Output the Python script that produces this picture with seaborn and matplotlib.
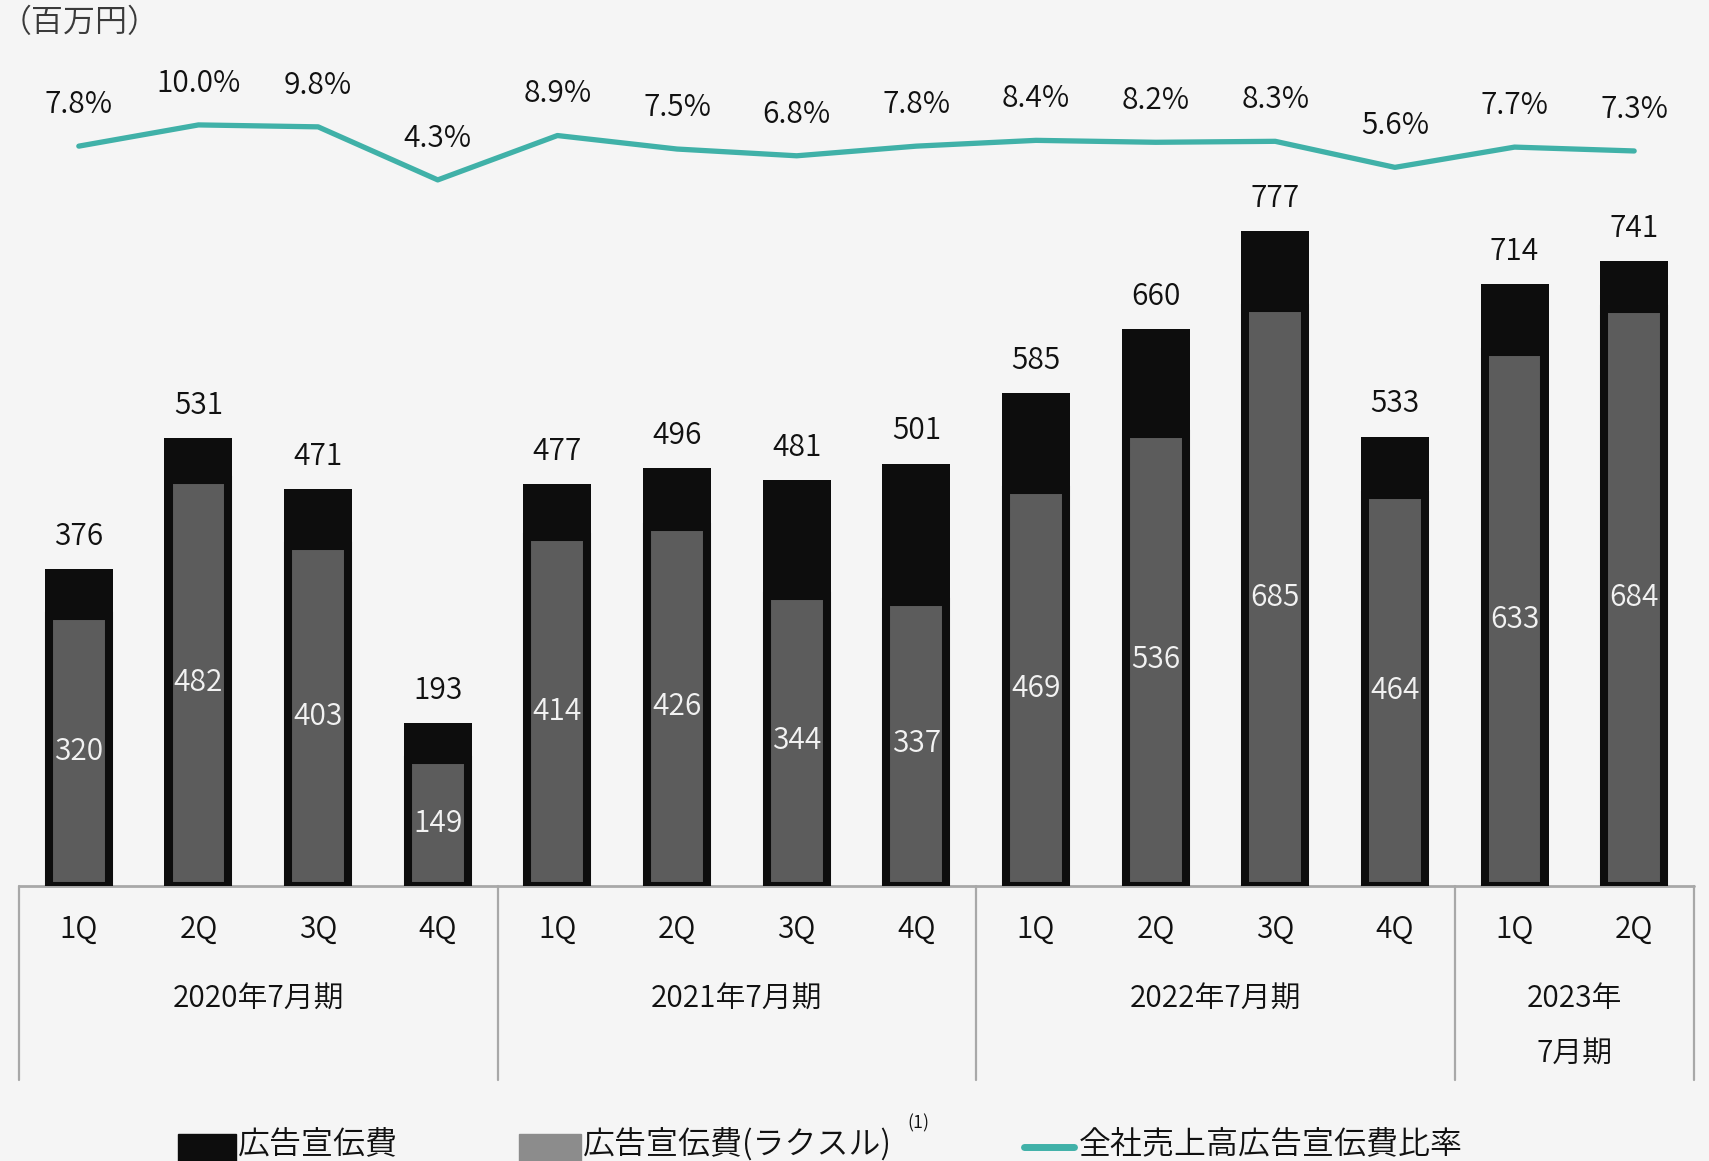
import numpy as np
import pandas as pd
import matplotlib
matplotlib.use("Agg")
import matplotlib.pyplot as plt
import matplotlib.transforms as mtransforms
from matplotlib.patches import Rectangle
from matplotlib.lines import Line2D
import seaborn as sns

# ---- data -------------------------------------------------------------
fiscal_years = ["2020年7月期", "2021年7月期", "2022年7月期", "2023年\n7月期"]
quarters_per_year = [4, 4, 4, 2]
quarter_labels = ["1Q", "2Q", "3Q", "4Q",
                  "1Q", "2Q", "3Q", "4Q",
                  "1Q", "2Q", "3Q", "4Q",
                  "1Q", "2Q"]
ad_total = [376, 531, 471, 193, 477, 496, 481, 501, 585, 660, 777, 533, 714, 741]
ad_raksul = [320, 482, 403, 149, 414, 426, 344, 337, 469, 536, 685, 464, 633, 684]
ad_ratio = [7.8, 10.0, 9.8, 4.3, 8.9, 7.5, 6.8, 7.8, 8.4, 8.2, 8.3, 5.6, 7.7, 7.3]

legend_labels = ["広告宣伝費", "広告宣伝費(ラクスル)", "全社売上高広告宣伝費比率"]
unit_label = "（百万円）"

# ---- style ------------------------------------------------------------
BG = "#f5f5f5"
BLACK = "#0d0d0d"
GRAY = "#5c5c5c"
LEGEND_GRAY = "#8c8c8c"
TEAL = "#40b1a8"
RULE = "#a8a8a8"
FS = 21.5
WEIGHT = 350

sns.set_theme(style="white")
plt.rcParams["font.family"] = ["Noto Sans CJK JP", "DejaVu Sans"]
plt.rcParams["font.weight"] = WEIGHT

W, H = 1709, 1161
fig = plt.figure(figsize=(W / 100, H / 100), dpi=100, facecolor=BG)


def px_rect(left, top, right, bottom):
    return [left / W, 1 - bottom / H, (right - left) / W, (bottom - top) / H]


rect = px_rect(19, 41, 1694, 886)
ax = fig.add_axes(rect)
ax.set_facecolor(BG)

keys = [f"q{i:02d}" for i in range(len(ad_total))]
df = pd.DataFrame({"key": keys, "total": ad_total, "raksul": ad_raksul,
                   "ratio": ad_ratio, "quarter": quarter_labels})

# total advertising cost (black) with the Raksul portion (gray) inside it
sns.barplot(data=df, x="key", y="total", order=keys, color=BLACK,
            width=0.568, saturation=1, linewidth=0, errorbar=None, ax=ax,
            zorder=2)
sns.barplot(data=df, x="key", y="raksul", order=keys, color=GRAY,
            width=0.5, saturation=1, edgecolor=BLACK, linewidth=5.8,
            errorbar=None, ax=ax, zorder=3)

n = len(keys)
ax.set_xlim(-0.5, n - 0.5)
ax.set_ylim(0, 1002)
ax.set_xlabel("")
ax.set_ylabel("")
ax.set_xticks([])
ax.set_yticks([])
for s in ax.spines.values():
    s.set_visible(False)

for i, (t, r) in enumerate(zip(ad_total, ad_raksul)):
    ax.annotate(f"{t}", (i, t), xytext=(0, 23.5), textcoords="offset points",
                ha="center", va="center", fontsize=FS, color="#111111")
    ax.text(i, r / 2, f"{r}", ha="center", va="center", fontsize=FS,
            color="#f2f2f2", zorder=5)

# category axis: quarters, fiscal years and separators
trans = mtransforms.blended_transform_factory(ax.transData, ax.transAxes)
ax.plot([-0.5, n - 0.5], [0, 0], transform=trans, color=RULE, lw=2,
        clip_on=False, zorder=1)
for i, q in enumerate(quarter_labels):
    ax.text(i, -0.0515, q, transform=trans, ha="center", va="center",
            fontsize=FS, color="#111111")

start = 0
bounds = [-0.5]
for fy, cnt in zip(fiscal_years, quarters_per_year):
    center = start + (cnt - 1) / 2
    lines = fy.split("\n")
    for k, line in enumerate(lines):
        ax.text(center, -0.1335 - 0.0651 * k, line, transform=trans,
                ha="center", va="center", fontsize=FS, color="#111111")
    start += cnt
    bounds.append(start - 0.5)
for b in bounds:
    ax.plot([b, b], [0, -0.2296], transform=trans, color=RULE, lw=1.6,
            clip_on=False)

# advertising-to-sales ratio on its own scale
ax2 = fig.add_axes(rect)
ax2.patch.set_visible(False)
sns.lineplot(x=np.arange(n), y=ad_ratio, ax=ax2, color=TEAL, lw=3.8,
             solid_capstyle="round")
ax2.set_xlim(-0.5, n - 0.5)
ax2.set_ylim(-68.9, 18.7)
ax2.axis("off")
for i, v in enumerate(ad_ratio):
    ax2.annotate(f"{v:.1f}%", (i, v), xytext=(0, 30),
                 textcoords="offset points", ha="center", va="center",
                 fontsize=FS, color="#111111")

# unit label
fig.text(0 / W, 1 - 23 / H, unit_label, ha="left", va="center",
         fontsize=23, color="#3a3a3a")

# legend along the bottom edge
LEG_Y = 1145
fig.add_artist(Rectangle((178 / W, 1 - 1170 / H), 58 / W, 36 / H,
                         transform=fig.transFigure, color=BLACK))
fig.text(238 / W, 1 - LEG_Y / H, legend_labels[0], ha="left", va="center",
         fontsize=23, color="#111111")
fig.add_artist(Rectangle((519 / W, 1 - 1170 / H), 62 / W, 36 / H,
                         transform=fig.transFigure, color=LEGEND_GRAY))
fig.text(583 / W, 1 - LEG_Y / H, legend_labels[1], ha="left", va="center",
         fontsize=23, color="#111111")
fig.text(907 / W, 1 - 1123 / H, "(1)", ha="left", va="center",
         fontsize=13, color="#111111")
fig.add_artist(Line2D([1024 / W, 1074 / W], [1 - 1147 / H] * 2,
                      transform=fig.transFigure, color=TEAL, lw=5,
                      solid_capstyle="round"))
fig.text(1079 / W, 1 - LEG_Y / H, legend_labels[2], ha="left", va="center",
         fontsize=23, color="#111111")

fig.savefig("out.png", dpi=100, facecolor=BG)
